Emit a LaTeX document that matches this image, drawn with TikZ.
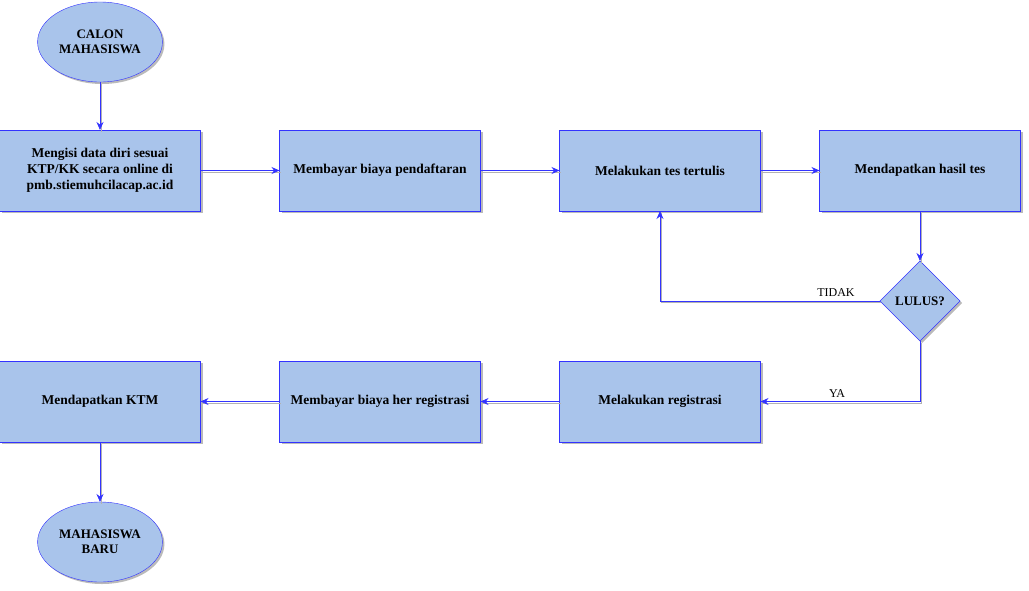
\documentclass[tikz,border=0pt]{standalone}
\usepackage{fontspec}
\setmainfont{Liberation Serif}
\usetikzlibrary{positioning,arrows.meta,shapes.geometric,shadows}
\definecolor{boxfill}{HTML}{A9C4EB}
\definecolor{linec}{HTML}{3333FF}

\begin{document}
\begin{tikzpicture}[x=1pt,y=-1pt, node distance=80pt and 80pt,
  shade/.style={drop shadow={shadow xshift=2pt,shadow yshift=-2pt,fill=black!45,opacity=0.6}},
  box/.style={draw=linec,fill=boxfill,shade,minimum width=201pt,minimum height=81pt,
    align=center,outer sep=0pt,font=\bfseries\fontsize{13.5}{16}\selectfont},
  term/.style={ellipse,draw=linec,fill=boxfill,shade,minimum width=120pt,minimum height=80pt,
    align=center,outer sep=0pt,font=\bfseries\fontsize{13}{15}\selectfont},
  decide/.style={diamond,draw=linec,fill=boxfill,shade,minimum width=80pt,minimum height=80pt,
    inner sep=0pt,outer sep=0pt,font=\bfseries\fontsize{13}{15}\selectfont},
  conn/.style={draw=linec,line width=0.8pt,-{Stealth[length=8pt,width=7pt]},
    preaction={draw=black!30,line width=0.8pt,-,transform canvas={shift={(1pt,-1.5pt)}}}},
  lbl/.style={font=\fontsize{12}{14}\selectfont,inner sep=4pt}]
\useasboundingbox (0,0) rectangle (1029,590);
% top row
\node[term] (start) at (100,42) {CALON\\MAHASISWA};
\node[box] (isi) at (100,170.5) {Mengisi data diri sesuai\\KTP/KK secara online di\\pmb.stiemuhcilacap.ac.id};
\node[box,right=79pt of isi] (bayar) {Membayar biaya pendaftaran};
\node[box,right=79pt of bayar] (tes) {Melakukan tes tertulis};
\node[box,right=59pt of tes] (hasil) {Mendapatkan hasil tes};
\node[decide,below=50pt of hasil] (lulus) {LULUS?};
% bottom row
\node[box,below=150pt of tes] (reg) {Melakukan registrasi};
\node[box,left=79pt of reg] (her) {Membayar biaya her registrasi};
\node[box,left=79pt of her] (ktm) {Mendapatkan KTM};
\node[term,below=60pt of ktm] (finish) {MAHASISWA\\BARU};
% connectors
\draw[conn] (start) -- (isi);
\draw[conn] (isi) -- (bayar);
\draw[conn] (bayar) -- (tes);
\draw[conn] (tes) -- (hasil);
\draw[conn] (hasil) -- (lulus);
\draw[conn] (lulus.west) -| node[lbl,above,pos=0.1] {TIDAK} (tes.south);
\draw[conn] (lulus.south) |- node[lbl,above,pos=0.76] {YA} (reg.east);
\draw[conn] (reg) -- (her);
\draw[conn] (her) -- (ktm);
\draw[conn] (ktm) -- (finish);
\end{tikzpicture}
\end{document}
